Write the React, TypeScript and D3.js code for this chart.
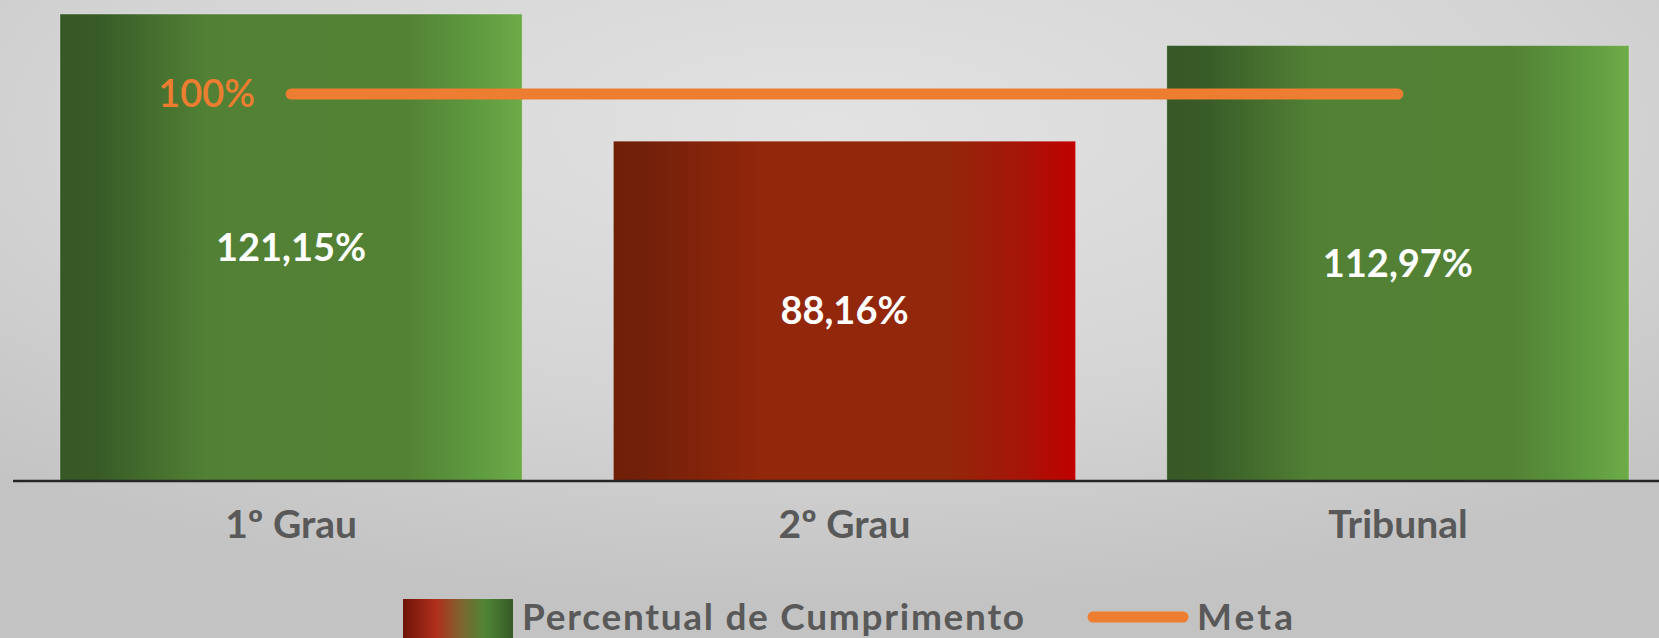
import React from 'react';
import * as d3 from 'd3';

const categories = ['1º Grau', '2º Grau', 'Tribunal'];
const percentual = [121.15, 88.16, 112.97];
const meta = [100, 100, 100];
const valueLabels = ['121,15%', '88,16%', '112,97%'];
const metaLabel = '100%';

const width = 1659;
const height = 638;
const baseY = 481;

const App = () => {
  const x = d3.scaleBand<string>()
    .domain(categories)
    .range([13, 1676])
    .paddingInner(0.165)
    .paddingOuter(0.085);

  const y = d3.scaleLinear()
    .domain([0, 124.8])
    .range([baseY, 0]);

  const metaLine = d3.line<number>()
    .x((_, i) => (x(categories[i]) as number) + x.bandwidth() / 2)
    .y(d => y(d) - 1.5);

  const font = 'Lato, "Open Sans", sans-serif';
  const gray = '#595959';

  return (
    <svg width={width} height={height} style={{ position: 'absolute', left: 0, top: 0 }}>
      <defs>
        <radialGradient id="bg" cx="0.5" cy="0.2" r="0.75">
          <stop offset="0" stopColor="#e2e2e2" />
          <stop offset="0.6" stopColor="#d4d4d4" />
          <stop offset="1" stopColor="#c3c3c3" />
        </radialGradient>
        <linearGradient id="green" x1="0" x2="1" y1="0" y2="0">
          <stop offset="0" stopColor="#355826" />
          <stop offset="0.08" stopColor="#385b27" />
          <stop offset="0.32" stopColor="#528135" />
          <stop offset="0.75" stopColor="#538235" />
          <stop offset="0.9" stopColor="#5e9a3f" />
          <stop offset="1" stopColor="#6eab48" />
        </linearGradient>
        <linearGradient id="red" x1="0" x2="1" y1="0" y2="0">
          <stop offset="0" stopColor="#701f07" />
          <stop offset="0.06" stopColor="#72200a" />
          <stop offset="0.32" stopColor="#92270b" />
          <stop offset="0.72" stopColor="#93270b" />
          <stop offset="0.88" stopColor="#a61508" />
          <stop offset="1" stopColor="#c00000" />
        </linearGradient>
        <linearGradient id="legendSwatch" x1="0" x2="1" y1="0" y2="0">
          <stop offset="0" stopColor="#6e1508" />
          <stop offset="0.3" stopColor="#b02e1c" />
          <stop offset="0.55" stopColor="#7a6a30" />
          <stop offset="0.75" stopColor="#4e8535" />
          <stop offset="1" stopColor="#375a27" />
        </linearGradient>
      </defs>

      <rect x={0} y={0} width={width} height={height} fill="url(#bg)" />

      {/* bars */}
      {categories.map((c, i) => (
        <rect
          key={c}
          x={x(c)}
          y={y(percentual[i])}
          width={x.bandwidth()}
          height={baseY - y(percentual[i])}
          fill={percentual[i] >= 100 ? 'url(#green)' : 'url(#red)'}
          stroke="#ffffff"
          strokeOpacity={0.25}
          strokeWidth={1}
        />
      ))}

      {/* value labels */}
      {categories.map((c, i) => (
        <text
          key={c + '-v'}
          x={(x(c) as number) + x.bandwidth() / 2}
          y={(y(percentual[i]) + baseY) / 2}
          dy="0.35em"
          textAnchor="middle"
          fill="#ffffff"
          fontFamily={font}
          fontWeight={700}
          fontSize={38}
        >
          {valueLabels[i]}
        </text>
      ))}

      {/* axis line */}
      <line x1={13} x2={width} y1={baseY} y2={baseY} stroke="#262626" strokeWidth={2.5} />

      {/* category labels */}
      {categories.map(c => (
        <text
          key={c + '-c'}
          x={(x(c) as number) + x.bandwidth() / 2}
          y={524}
          dy="0.35em"
          textAnchor="middle"
          fill={gray}
          fontFamily={font}
          fontWeight={700}
          fontSize={39}
        >
          {c}
        </text>
      ))}

      {/* meta line */}
      <path d={metaLine(meta) || ''} fill="none" stroke="#ed7d31" strokeWidth={11} strokeLinecap="round" />
      <text
        x={(x(categories[0]) as number) + x.bandwidth() / 2 - 36}
        y={y(meta[0]) - 1.5}
        dy="0.35em"
        textAnchor="end"
        fill="#ed7d31"
        fontFamily={font}
        fontWeight={600}
        fontSize={38}
      >
        {metaLabel}
      </text>

      {/* legend */}
      <rect x={403} y={599} width={110} height={45} fill="url(#legendSwatch)" />
      <text
        x={522}
        y={617}
        dy="0.35em"
        fill={gray}
        fontFamily={font}
        fontWeight={700}
        fontSize={37}
        textLength={502}
        lengthAdjust="spacing"
      >
        Percentual de Cumprimento
      </text>
      <line x1={1093} x2={1183} y1={617} y2={617} stroke="#ed7d31" strokeWidth={11} strokeLinecap="round" />
      <text
        x={1197}
        y={617}
        dy="0.35em"
        fill={gray}
        fontFamily={font}
        fontWeight={700}
        fontSize={37}
        textLength={96}
        lengthAdjust="spacing"
      >
        Meta
      </text>
    </svg>
  );
};

export default App;
